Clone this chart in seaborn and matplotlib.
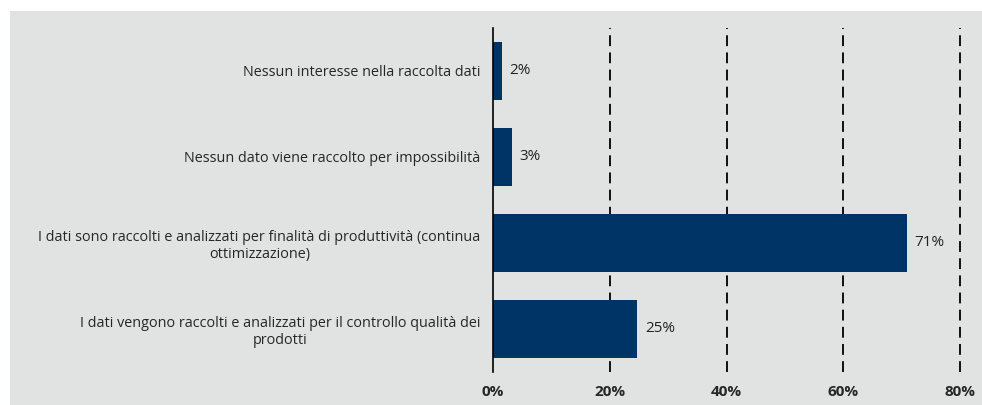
import pandas as pd
import seaborn as sns
import matplotlib.pyplot as plt
from matplotlib.patches import Rectangle

# dati
categorie = [
    "Nessun interesse nella raccolta dati",
    "Nessun dato viene raccolto per impossibilità",
    "I dati sono raccolti e analizzati per finalità di produttività (continua\nottimizzazione)",
    "I dati vengono raccolti e analizzati per il controllo qualità dei\nprodotti",
]
valori = [1.5, 3.3, 70.9, 24.7]
etichette = ["2%", "3%", "71%", "25%"]
ticks_x = [0, 20, 40, 60, 80]

tabela = pd.DataFrame({"categoria": categorie, "valore": valori})

sns.set_style("white")
plt.rcParams["font.family"] = ["Open Sans", "DejaVu Sans"]

grigio = "#e1e2e2"
blu = "#003366"

fig = plt.figure(figsize=(9.82, 4.05), dpi=100)
fig.patch.set_facecolor("white")
sfondo = Rectangle((10 / 982, 0), 1, 1 - 11 / 405, transform=fig.transFigure,
                   facecolor=grigio, edgecolor="none", zorder=-10)
fig.patches.append(sfondo)

ax = fig.add_axes([493 / 982, 1 - 372 / 405, (960 - 493) / 982, (372 - 28) / 405])
ax.set_facecolor(grigio)
ax.set_zorder(5)

sns.barplot(data=tabela, y="categoria", x="valore", orient="h", color=blu,
            width=0.67, saturation=1, linewidth=0, ax=ax)

# etichette dei valori
for i, (v, t) in enumerate(zip(valori, etichette)):
    ax.text(v + 1.3, i, t, va="center", ha="left", fontsize=11, color="#222222")

ax.set_xlim(0, 80)
ax.set_ylim(3.5, -0.5)
ax.set_xticks(ticks_x)
ax.set_xticklabels([f"{t}%" for t in ticks_x], fontweight="bold", fontsize=11)
ax.tick_params(axis="x", length=0, pad=9)
ax.tick_params(axis="y", length=0, pad=9, labelsize=10.4)
for lab in ax.get_yticklabels():
    lab.set_multialignment("center")

for t in ticks_x[1:]:
    ax.axvline(t, color="black", linestyle=(0, (6, 3.5)), linewidth=1.3,
               zorder=0.5, clip_on=False)

for s in ["top", "right", "bottom"]:
    ax.spines[s].set_visible(False)
ax.spines["left"].set_color("black")
ax.spines["left"].set_linewidth(1.2)

ax.set_xlabel("")
ax.set_ylabel("")

plt.savefig("out.png", dpi=100, facecolor=fig.get_facecolor())
